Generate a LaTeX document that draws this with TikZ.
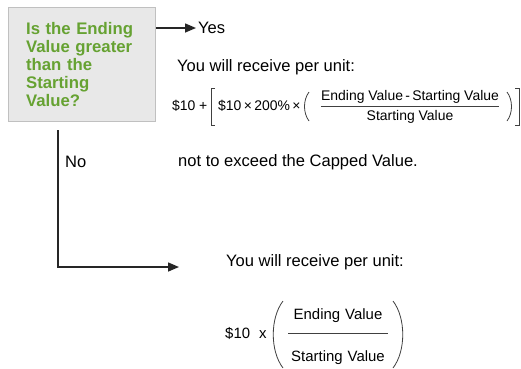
\documentclass[tikz,border=0pt]{standalone}
\usepackage{fontspec}
\setmainfont{Liberation Sans}
\usetikzlibrary{positioning,arrows.meta}
\definecolor{qgreen}{RGB}{102,162,50}
\definecolor{qfill}{RGB}{232,232,232}
\definecolor{qedge}{RGB}{192,192,192}
\tikzset{
question/.style={
  draw=qedge,
  fill=qfill,
  line width=1.2bp,
  minimum width=147bp,
  minimum height=114bp,
  text width=112bp,
  inner xsep=17.5bp,
  align=left,
  text=qgreen,
  font=\fontsize{16.8}{18}\selectfont\bfseries
  },
plain/.style={font=\fontsize{16.6}{19}\selectfont,inner sep=0pt},
eqn/.style={font=\fontsize{14}{16}\selectfont,inner sep=0pt},
eqnbig/.style={font=\fontsize{15}{17}\selectfont,inner sep=0pt},
flow/.style={line width=1.5bp,draw=black!85,-{Triangle[length=11bp,width=9bp]}},
fence/.style={line width=0.8bp,draw=black!75}
}
\begin{document}
\begin{tikzpicture}[x=1bp,y=-1bp]
\useasboundingbox (0,0) rectangle (521,368);

\node[question,anchor=north west] (question) at (8,7)
  {Is the Ending\\Value greater\\than the\\Starting\\Value?};

% yes branch
\node[plain,anchor=west] (yes) at (198,28) {Yes};
\draw[flow] (question.east |- yes.west) -- ([xshift=-2bp]yes.west);

\node[plain,anchor=west] (recv-yes) at (177,67) {You will receive per unit:};

\node[eqn,anchor=west] (t-ten) at (172,106) {\$10};
\node[eqn,anchor=west] (t-plus) at (199,106) {+};
\draw[fence] (215,88) -- (211,88) -- (211,125) -- (215,125);
\node[eqn,anchor=west] (t-mult) at (218,106) {\$10\,×\,200\%\,×};
\draw[fence] (309,92) .. controls (303,100) and (303,113) .. (309,121);
\node[eqn] (t-num) at (410,97) {Ending Value\,-\,Starting Value};
\draw[fence] ([yshift=-3bp]t-num.south west) -- ([yshift=-3bp]t-num.south east);
\node[eqn] (t-den) at (410,117) {Starting Value};
\draw[fence] (507,92) .. controls (513,100) and (513,113) .. (507,121);
\draw[fence] (515,88) -- (519,88) -- (519,125) -- (515,125);

\node[plain,anchor=west] (cap) at (178,162) {not to exceed the Capped Value.};

% no branch
\node[plain,anchor=west] (no) at (65,162) {No};
\coordinate (no-turn) at (58,267);
\coordinate (no-tip) at (179,267);
\draw[flow] ([yshift=-8bp]question.south -| no-turn) -- (no-turn) -- (no-tip);

\node[plain] (recv-no) at (315,262) {You will receive per unit:};

\node[eqnbig,anchor=west] (b-ten) at (225,333) {\$10\hspace{9bp}x};
\draw[fence] (283,301) .. controls (270,318) and (270,351) .. (283,368);
\node[eqnbig] (b-num) at (338,316) {Ending\,\,Value};
\draw[fence] (288,333) -- (388,333);
\node[eqnbig] (b-den) at (338,358) {Starting\,\,Value};
\draw[fence] (393,301) .. controls (406,318) and (406,351) .. (393,368);

\end{tikzpicture}
\end{document}
